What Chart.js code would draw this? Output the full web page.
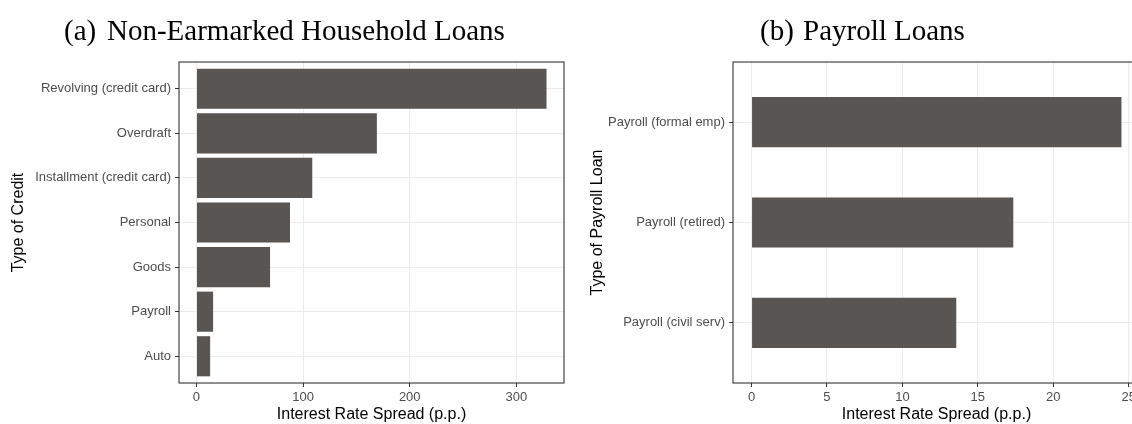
<!DOCTYPE html>
<html>
<head>
<meta charset="utf-8">
<script src="https://cdn.jsdelivr.net/npm/chart.js@4/dist/chart.umd.min.js"></script>
<style>
  html, body { margin: 0; padding: 0; background: #fff; width: 1132px; height: 424px; overflow: hidden; }
  #wrap { position: relative; width: 1132px; height: 424px; overflow: hidden; }
  canvas { position: absolute; top: 0; }
  #cA { left: 0; }
  #cB { left: 580px; }
</style>
</head>
<body>
<div id="wrap">
  <canvas id="cA" width="580" height="424"></canvas>
  <canvas id="cB" width="580" height="424"></canvas>
</div>
<script>
// ---- Data ----
const catsA = ['Revolving (credit card)', 'Overdraft', 'Installment (credit card)', 'Personal', 'Goods', 'Payroll', 'Auto'];
const spreadA = [328.3, 169.2, 108.6, 87.7, 69.0, 15.6, 12.8];
const ticksA = [0, 100, 200, 300];

const catsB = ['Payroll (formal emp)', 'Payroll (retired)', 'Payroll (civil serv)'];
const spreadB = [24.52, 17.35, 13.57];
const ticksB = [0, 5, 10, 15, 20, 25];

const titleA = ['(a)', 'Non-Earmarked Household Loans'];
const titleB = ['(b)', 'Payroll Loans'];
const xTitle = 'Interest Rate Spread (p.p.)';
const yTitleA = 'Type of Credit';
const yTitleB = 'Type of Payroll Loan';

// ---- Styles ----
const BAR = '#595553';
const GRID = '#ebebeb';
const DARK = '#333333';
const TICKTXT = '#4d4d4d';
const SANS = '"Liberation Sans", Arial, sans-serif';
const SERIF = '"Liberation Serif", "Times New Roman", serif';

const decor = {
  id: 'decor',
  afterDatasetsDraw(chart, args, opts) {
    const {ctx, chartArea: a} = chart;
    ctx.save();
    ctx.strokeStyle = DARK;
    ctx.lineWidth = 1.1;
    ctx.strokeRect(a.left, a.top, a.right - a.left, a.bottom - a.top);
    ctx.restore();
  },
  afterDraw(chart, args, opts) {
    const ctx = chart.ctx;
    ctx.save();
    ctx.fillStyle = '#000';
    ctx.font = opts.size + 'px ' + SERIF;
    ctx.textBaseline = 'alphabetic';
    ctx.textAlign = 'left';
    ctx.fillText(opts.tag, opts.tagX, opts.baseline);
    ctx.fillText(opts.text, opts.textX, opts.baseline);
    ctx.restore();
  }
};

function makeChart(id, cats, vals, ticks, xmin, xmax, barPct, yTitle, yW, padRight, yTitlePad, title) {
  return new Chart(document.getElementById(id), {
    type: 'bar',
    data: {
      datasets: [{
        data: vals.map((v, i) => ({x: v, y: i})),
        backgroundColor: BAR,
        borderWidth: 0,
        barPercentage: barPct,
        categoryPercentage: 1.0
      }]
    },
    plugins: [decor],
    options: {
      indexAxis: 'y',
      responsive: false,
      animation: false,
      devicePixelRatio: 1,
      layout: { padding: { top: 62, right: padRight, bottom: 0, left: 0 } },
      plugins: {
        legend: { display: false },
        tooltip: { enabled: false },
        decor: title
      },
      scales: {
        x: {
          type: 'linear',
          position: 'bottom',
          offset: false,
          min: xmin,
          max: xmax,
          afterBuildTicks: s => { s.ticks = ticks.map(v => ({value: v})); },
          afterFit: s => { s.height = 41; },
          grid: { offset: false, color: GRID, lineWidth: 1, drawTicks: true, tickLength: 4, tickColor: DARK, tickWidth: 1 },
          border: { display: false },
          ticks: { color: TICKTXT, font: { family: SANS, size: 13 }, padding: 3, maxRotation: 0, autoSkip: false },
          title: { display: true, text: xTitle, color: '#000', font: { family: SANS, size: 16 }, padding: { top: 2, bottom: 0 } }
        },
        y: {
          type: 'linear',
          position: 'left',
          offset: false,
          reverse: true,
          min: -0.6,
          max: cats.length - 1 + 0.6,
          afterBuildTicks: s => { s.ticks = cats.map((c, i) => ({value: i})); },
          afterFit: s => { s.width = yW; },
          grid: { offset: false, color: GRID, lineWidth: 1, drawTicks: true, tickLength: 4, tickColor: DARK, tickWidth: 1 },
          border: { display: false },
          ticks: { color: TICKTXT, font: { family: SANS, size: 13 }, padding: 4, autoSkip: false,
                   callback: v => cats[v] },
          title: { display: true, text: yTitle, color: '#000', font: { family: SANS, size: 16 }, padding: { top: yTitlePad, bottom: 0 } }
        }
      }
    }
  });
}

makeChart('cA', catsA, spreadA, ticksA, -16.4, 344.7, 0.9, yTitleA, 179, 16, 9,
  { tag: titleA[0], text: titleA[1], tagX: 64, textX: 107, baseline: 40, size: 29 });
makeChart('cB', catsB, spreadB, ticksB, -1.23, 25.75, 0.5, yTitleB, 153, 20, 8,
  { tag: titleB[0], text: titleB[1], tagX: 180, textX: 223, baseline: 40, size: 29 });
</script>
</body>
</html>
